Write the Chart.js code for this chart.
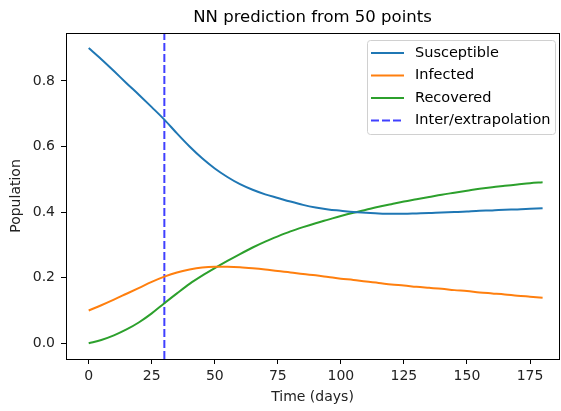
<!DOCTYPE html>
<html>
<head>
<meta charset="utf-8">
<script src="https://cdn.jsdelivr.net/npm/chart.js@4"></script>
<style>
    body { margin: 0; background: #fff; }
    #wrap { width: 561px; height: 411px; }
</style>
</head>
<body>
<div id="wrap"><canvas id="chart" width="561" height="411"></canvas></div>
<script>
// time axis (days) and the three predicted curves
var days = [0, 5, 10, 15, 20, 25, 30, 35, 40, 45, 50, 55, 60, 65, 70, 75, 80, 85, 90,
    95, 100, 105, 110, 115, 120, 125, 130, 135, 140, 145, 150, 155, 160, 165, 170, 175, 180];
var susceptible = [0.900, 0.866, 0.830, 0.793, 0.757, 0.720, 0.682, 0.640, 0.600, 0.564, 0.533, 0.507, 0.485, 0.468, 0.454, 0.443, 0.432, 0.422, 0.414,
    0.408, 0.404, 0.400, 0.398, 0.396, 0.395, 0.395, 0.396, 0.397, 0.399, 0.400, 0.402, 0.404, 0.405, 0.407, 0.408, 0.410, 0.412];
var infected = [0.100, 0.116, 0.133, 0.151, 0.169, 0.187, 0.203, 0.216, 0.225, 0.231, 0.233, 0.233, 0.232, 0.229, 0.225, 0.220, 0.216, 0.211, 0.207,
    0.202, 0.197, 0.193, 0.188, 0.184, 0.179, 0.176, 0.172, 0.169, 0.166, 0.162, 0.159, 0.155, 0.152, 0.149, 0.145, 0.142, 0.139];
var recovered = [0.000, 0.010, 0.024, 0.042, 0.064, 0.091, 0.122, 0.152, 0.181, 0.206, 0.229, 0.251, 0.272, 0.292, 0.310, 0.326, 0.341, 0.354, 0.366,
    0.377, 0.388, 0.398, 0.407, 0.416, 0.424, 0.432, 0.439, 0.446, 0.453, 0.459, 0.465, 0.471, 0.476, 0.480, 0.484, 0.488, 0.491];
var splitDay = 30;

var xTicks = [0, 25, 50, 75, 100, 125, 150, 175];
var yTicks = [0.0, 0.2, 0.4, 0.6, 0.8];
var xRange = [-9, 186.5];
var yRange = [-0.048, 0.946];

var FONT = 'DejaVu Sans';

function pts(ys) {
    return days.map(function (d, i) { return { x: d, y: ys[i] }; });
}

var frameAndLegend = {
    id: 'frameAndLegend',
    afterDraw: function (c) {
        var ctx = c.ctx;
        var a = c.chartArea;
        ctx.save();
        // axes frame on all four sides
        ctx.strokeStyle = '#000';
        ctx.lineWidth = 1;
        ctx.strokeRect(Math.round(a.left) + 0.5, Math.round(a.top) + 0.5,
            Math.round(a.right - a.left), Math.round(a.bottom - a.top));

        // title
        ctx.fillStyle = '#000';
        ctx.font = '16.5px "' + FONT + '"';
        ctx.textAlign = 'center';
        ctx.textBaseline = 'middle';
        ctx.fillText('NN prediction from 50 points', (a.left + a.right) / 2, 18);

        // legend box in upper right corner
        var bx = 367, by = 40, bw = 188, bh = 94;
        ctx.beginPath();
        ctx.roundRect(bx + 0.5, by + 0.5, bw, bh, 3);
        ctx.fillStyle = 'rgba(255,255,255,0.8)';
        ctx.fill();
        ctx.strokeStyle = '#d0d0d0';
        ctx.lineWidth = 1;
        ctx.stroke();

        ctx.font = '14.5px "' + FONT + '"';
        ctx.textAlign = 'left';
        c.data.datasets.forEach(function (ds, i) {
            var y = by + 13 + i * 22.5;
            ctx.beginPath();
            ctx.strokeStyle = ds.borderColor;
            ctx.lineWidth = 2;
            ctx.setLineDash(ds.borderDash || []);
            ctx.moveTo(bx + 4, y);
            ctx.lineTo(bx + 37, y);
            ctx.stroke();
            ctx.setLineDash([]);
            ctx.fillStyle = '#000';
            ctx.fillText(ds.label, bx + 48, y);
        });
        ctx.restore();
    }
};

var ctx = document.getElementById('chart').getContext('2d');
var chart = new Chart(ctx, {
    type: 'line',
    data: {
        datasets: [{
            label: 'Susceptible',
            data: pts(susceptible),
            borderColor: '#1f77b4',
            borderWidth: 2,
            pointRadius: 0,
            cubicInterpolationMode: 'monotone'
        }, {
            label: 'Infected',
            data: pts(infected),
            borderColor: '#ff7f0e',
            borderWidth: 2,
            pointRadius: 0,
            cubicInterpolationMode: 'monotone'
        }, {
            label: 'Recovered',
            data: pts(recovered),
            borderColor: '#2ca02c',
            borderWidth: 2,
            pointRadius: 0,
            cubicInterpolationMode: 'monotone'
        }, {
            label: 'Inter/extrapolation',
            data: [{ x: splitDay, y: yRange[0] }, { x: splitDay, y: yRange[1] }],
            borderColor: 'rgba(0,0,255,0.75)',
            borderWidth: 2,
            borderDash: [8, 3],
            pointRadius: 0
        }]
    },
    options: {
        responsive: false,
        animation: false,
        layout: { padding: { left: 0, right: 2, top: 33, bottom: 0 } },
        plugins: {
            legend: { display: false },
            title: { display: false },
            tooltip: { enabled: false }
        },
        scales: {
            x: {
                type: 'linear',
                min: xRange[0],
                max: xRange[1],
                afterBuildTicks: function (s) {
                    s.ticks = xTicks.map(function (v) { return { value: v }; });
                },
                afterFit: function (s) { s.height = 52; },
                grid: { display: true, drawOnChartArea: false, drawTicks: true, tickLength: 5, color: '#000' },
                border: { display: false },
                ticks: {
                    color: '#222',
                    padding: 4,
                    maxRotation: 0,
                    font: { family: FONT, size: 14 }
                },
                title: {
                    display: true,
                    text: 'Time (days)',
                    color: '#222',
                    padding: { top: 0, bottom: 5 },
                    font: { family: FONT, size: 14 }
                }
            },
            y: {
                type: 'linear',
                min: yRange[0],
                max: yRange[1],
                afterBuildTicks: function (s) {
                    s.ticks = yTicks.map(function (v) { return { value: v }; });
                },
                afterFit: function (s) { s.width = 66; },
                grid: { display: true, drawOnChartArea: false, drawTicks: true, tickLength: 5, color: '#000' },
                border: { display: false },
                ticks: {
                    color: '#222',
                    padding: 6,
                    font: { family: FONT, size: 14 },
                    callback: function (v) { return v.toFixed(1); }
                },
                title: {
                    display: true,
                    text: 'Population',
                    color: '#222',
                    padding: { top: 8, bottom: 0 },
                    font: { family: FONT, size: 14 }
                }
            }
        }
    },
    plugins: [frameAndLegend]
});
</script>
</body>
</html>
